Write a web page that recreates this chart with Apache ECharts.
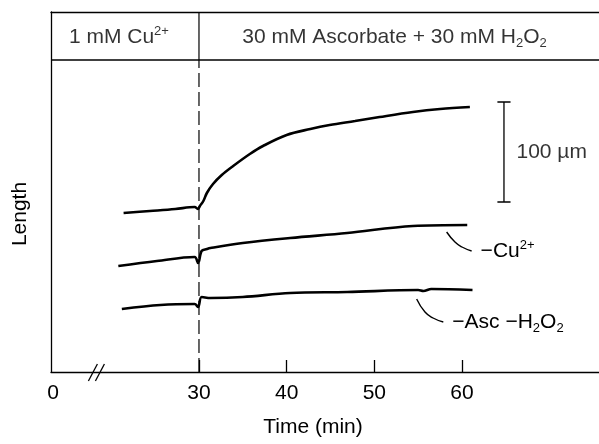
<!DOCTYPE html>
<html>
<head>
<meta charset="utf-8">
<script src="https://cdn.jsdelivr.net/npm/echarts@6.0.0/dist/echarts.min.js"></script>
<style>
html, body { margin: 0; padding: 0; background: #fff; }
#chart { width: 599px; height: 444px; }
</style>
</head>
<body>
<div id="chart"></div>
<script>
// time in min, length in µm (arbitrary offset per trace)
var fullTrace = [[21.4,159],[24.4,161],[27.3,163],[29.5,165],[29.9,163],[30.1,166],[30.5,171],[30.9,179],
    [31.6,188],[32.6,197],[33.9,206],[35.8,218],[37.3,226],[40.0,237],[42.7,243],[44.9,247],[47.8,251],
    [50.6,255],[54.4,260],[57.5,263],[60.9,265]];
var noCuTrace = [[20.8,106],[25.2,111],[29.5,115],[29.9,109],[30.3,121],[30.9,123],[31.3,124],[35.0,129],
    [40.4,134],[46.9,139],[54.4,146],[60.6,147]];
var noAscTrace = [[21.2,63],[25.6,67],[29.5,68],[29.9,65],[30.3,75],[31.3,74],[35.0,75],[40.4,79],
    [46.9,80],[55.0,82],[55.6,81],[56.5,83],[61.2,82]];
var cuCallout = [[58.25,140],[59.2,130],[60.0,125],[61.1,121]];
var ascCallout = [[54.83,73],[55.78,60],[56.7,54],[57.87,50]];
var xTicks = [30, 40, 50, 60];
var xLabels = [13.35, 30, 40, 50, 60];
var switchTime = 30;
var headerLine = 312;
var scaleBar = { t: 64.79, from: 170, to: 270, cap: 0.75 };
var breakAt = [17.9, 18.7];

var font = 'Liberation Sans, Arial, Helvetica, sans-serif';
var rich = {
    n: { fontSize: 21, lineHeight: 25, fontFamily: font, color: '#000' },
    sup: { fontSize: 13, lineHeight: 19, verticalAlign: 'top', fontFamily: font, color: '#000' },
    sub: { fontSize: 13, lineHeight: 13, verticalAlign: 'bottom', fontFamily: font, color: '#000' }
};

var chart = echarts.init(document.getElementById('chart'));

function trace(data) {
    return {
        type: 'line', data: data, showSymbol: false, smooth: 0.35,
        lineStyle: { color: '#000', width: 2.6 }, silent: true, animation: false
    };
}
function callout(data, text) {
    return {
        type: 'line', data: data, showSymbol: false, smooth: true,
        lineStyle: { color: '#000', width: 1.4 }, silent: true, animation: false,
        endLabel: { show: true, formatter: text, distance: 9, color: '#000', rich: rich }
    };
}
function note(pt, text, pos, dist) {
    return {
        type: 'scatter', symbolSize: 1, itemStyle: { color: 'rgba(0,0,0,0)' }, silent: true, animation: false,
        data: [{ value: pt, label: { show: true, position: pos, distance: dist || 0, color: '#000', formatter: text, rich: rich } }]
    };
}

var option = {
    animation: false,
    grid: { left: 51, right: 0, top: 12, bottom: 72 },
    xAxis: [{
        type: 'value', min: 13.12, max: 75.63, position: 'bottom',
        splitLine: { show: false },
        axisLine: { lineStyle: { color: '#000', width: 1.3 } },
        axisTick: { inside: true, length: 12, customValues: xTicks, lineStyle: { color: '#000', width: 1.3 } },
        axisLabel: {
            customValues: xLabels, margin: 11, color: '#000', fontSize: 21, fontFamily: font,
            formatter: function (v) { return v < 20 ? '0' : String(v); }
        }
    }, {
        type: 'value', min: 13.12, max: 75.63, position: 'top',
        splitLine: { show: false }, axisTick: { show: false }, axisLabel: { show: false },
        axisLine: { lineStyle: { color: '#000', width: 1.3 } }
    }],
    yAxis: {
        type: 'value', min: 0, max: 360,
        splitLine: { show: false }, axisTick: { show: false }, axisLabel: { show: false },
        axisLine: { show: true, lineStyle: { color: '#000', width: 1.3 } }
    },
    series: [
        trace(fullTrace),
        trace(noCuTrace),
        trace(noAscTrace),
        {
            type: 'line', data: [[switchTime, 0], [switchTime, headerLine]], showSymbol: false,
            lineStyle: { color: '#000', width: 1.2, type: [14, 5] }, silent: true
        },
        {
            type: 'line', data: [[switchTime, headerLine], [switchTime, 360]], showSymbol: false,
            lineStyle: { color: '#000', width: 1.2 }, silent: true
        },
        {
            type: 'line', data: [[13.12, headerLine], [75.63, headerLine]], showSymbol: false,
            lineStyle: { color: '#000', width: 1.3 }, silent: true
        },
        {
            type: 'line', showSymbol: false, silent: true, connectNulls: false,
            lineStyle: { color: '#000', width: 1.3 },
            data: [[scaleBar.t - scaleBar.cap, scaleBar.to], [scaleBar.t + scaleBar.cap, scaleBar.to], '-',
                [scaleBar.t, scaleBar.to], [scaleBar.t, scaleBar.from], '-',
                [scaleBar.t - scaleBar.cap, scaleBar.from], [scaleBar.t + scaleBar.cap, scaleBar.from]]
        },
        callout(cuCallout, '{n|\u2212Cu}{sup|2+}'),
        callout(ascCallout, '{n|\u2212Asc \u2212H}{sub|2}{n|O}{sub|2}'),
        note([20.87, 335], '{n|1 mM Cu}{sup|2+}', 'inside'),
        note([52.3, 335], '{n|30 mM Ascorbate + 30 mM H}{sub|2}{n|O}{sub|2}', 'inside'),
        note([scaleBar.t, (scaleBar.from + scaleBar.to) / 2], '{n|100 \u00b5m}', 'right', 12)
    ]
};
chart.setOption(option);

var marks = [];
breakAt.forEach(function (t) {
    var p = chart.convertToPixel({ xAxisIndex: 0, yAxisIndex: 0 }, [t, 0]);
    marks.push({
        type: 'line', silent: true,
        shape: { x1: p[0] - 4.5, y1: p[1] + 9, x2: p[0] + 4.5, y2: p[1] - 8 },
        style: { stroke: '#000', lineWidth: 1.3 }
    });
});
marks.push({
    type: 'text', x: 20, y: 214, rotation: Math.PI / 2, silent: true,
    style: { text: 'Length', fontSize: 21, fontFamily: font, fill: '#000', align: 'center', verticalAlign: 'middle' }
});
marks.push({
    type: 'text', x: 313, y: 427, silent: true,
    style: { text: 'Time (min)', fontSize: 21, fontFamily: font, fill: '#000', align: 'center', verticalAlign: 'middle' }
});
chart.setOption({ graphic: marks });
</script>
</body>
</html>
